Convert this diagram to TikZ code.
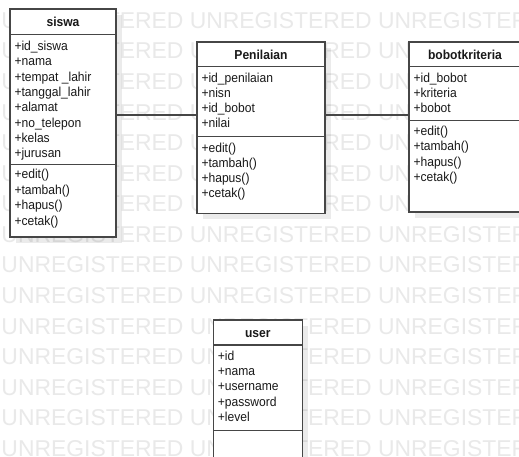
\documentclass[tikz,border=0pt]{standalone}
\usepackage{fontspec}
\setmainfont{Liberation Sans}
\newfontfamily\umlfont[FakeStretch=0.93]{Liberation Sans}
\definecolor{edgec}{RGB}{70,70,70}
\definecolor{textc}{RGB}{25,25,25}
\definecolor{wmc}{RGB}{233,233,233}
\begin{document}
\begin{tikzpicture}[x=1pt,y=-1pt,
  font=\umlfont\fontsize{13}{15}\selectfont,
  every node/.style={inner sep=0pt,outer sep=0pt},
  classbox/.style={draw=edgec,line width=1.1pt,fill=white,anchor=north west},
  divider/.style={draw=edgec,line width=1.1pt},
  link/.style={draw=edgec,line width=1.1pt},
  boxshade/.style={fill=black,fill opacity=0.08},
  member/.style={anchor=base west,text=textc},
  classtitle/.style={anchor=base,text=textc,font=\umlfont\bfseries\fontsize{13}{15}\selectfont},
  wmtext/.style={anchor=base west,text=wmc,font=\normalfont\fontsize{22.9}{24}\selectfont}
]
\clip (0,0) rectangle (519,456);
\fill[white] (0,0) rectangle (519,456);

% background watermark rows
\foreach \k in {0,...,14}
  \node[wmtext] (wm\k) at (1.5,{28.4+30.57*\k}) {UNREGISTERED UNREGISTERED UNREGISTERED};

% drop shadows
\fill[boxshade] (16,15) rectangle (122,243);
\fill[boxshade] (203,48) rectangle (331,219.3);
\fill[boxshade] (415,48) rectangle (527,218);
\fill[boxshade] (219.3,326) rectangle (308.3,476);

% class boxes
\node[classbox,minimum width=106pt,minimum height=228pt] (siswa) at (10,9) {};
\node[classbox,minimum width=128pt,minimum height=171.3pt] (penilaian) at (197,42) {};
\node[classbox,minimum width=112pt,minimum height=170pt] (bobot) at (409,42) {};
\node[classbox,minimum width=89pt,minimum height=150pt] (user) at (213.3,320) {};

% compartment dividers
\draw[divider] (10,34.3) -- (116,34.3);
\draw[divider] (10,164.3) -- (116,164.3);
\draw[divider] (197,66.3) -- (325,66.3);
\draw[divider] (197,136.7) -- (325,136.7);
\draw[divider] (409,66.3) -- (521,66.3);
\draw[divider] (409,120.7) -- (521,120.7);
\draw[divider] (213.3,345) -- (302.3,345);
\draw[divider] (213.3,430.7) -- (302.3,430.7);

% class names
\node[classtitle] (siswa-t) at (63,26.6) {siswa};
\node[classtitle] (penilaian-t) at (261,59.2) {Penilaian};
\node[classtitle] (bobot-t) at (465,59.2) {bobotkriteria};
\node[classtitle] (user-t) at (257.8,337.5) {user};

% attributes and operations
\foreach \t [count=\i from 0] in {+id\_siswa,+nama,+tempat \_lahir,+tanggal\_lahir,+alamat,+no\_telepon,+kelas,+jurusan}
  \node[member] (siswa-a\i) at (14.5,{50.5+15.3*\i}) {\t};
\foreach \t [count=\i from 0] in {+edit(),+tambah(),+hapus(),+cetak()}
  \node[member] (siswa-m\i) at (14.5,{178.8+15.4*\i}) {\t};

\foreach \t [count=\i from 0] in {+id\_penilaian,+nisn,+id\_bobot,+nilai}
  \node[member] (penilaian-a\i) at (201.5,{82+15.3*\i}) {\t};
\foreach \t [count=\i from 0] in {+edit(),+tambah(),+hapus(),+cetak()}
  \node[member] (penilaian-m\i) at (201.5,{152+15.3*\i}) {\t};

\foreach \t [count=\i from 0] in {+id\_bobot,+kriteria,+bobot}
  \node[member] (bobot-a\i) at (413.5,{82+15.3*\i}) {\t};
\foreach \t [count=\i from 0] in {+edit(),+tambah(),+hapus(),+cetak()}
  \node[member] (bobot-m\i) at (413.5,{135.5+15.3*\i}) {\t};

\foreach \t [count=\i from 0] in {+id,+nama,+username,+password,+level}
  \node[member] (user-a\i) at (217.8,{360.5+15.2*\i}) {\t};

% associations
\coordinate (linkrow) at (0,115);
\draw[link] (siswa.east |- linkrow) -- (penilaian.west |- linkrow);
\draw[link] (penilaian.east |- linkrow) -- (bobot.west |- linkrow);
\end{tikzpicture}
\end{document}
